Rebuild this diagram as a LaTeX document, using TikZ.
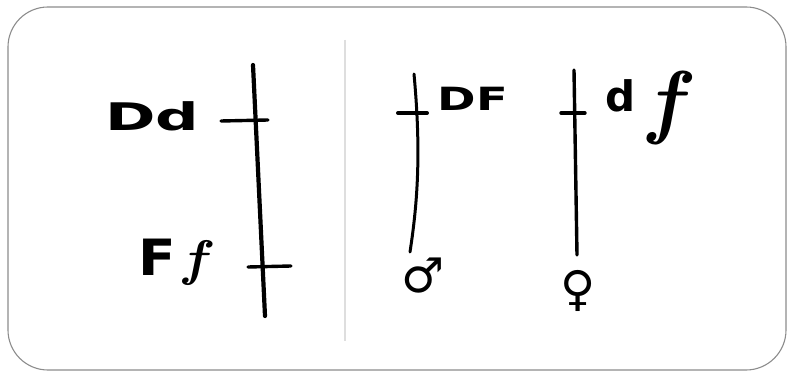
\documentclass[tikz,border=0pt]{standalone}
\usepackage{fontspec}
\setmainfont{DejaVu Sans}
\newfontfamily\lmfam{Latin Modern Roman}
\begin{document}
\begin{tikzpicture}[x=1pt,y=-1pt,
  chrom/.style={line width=3.6pt,line cap=round},
  locus/.style={line width=3.4pt,line cap=round},
  lbl/.style={inner sep=0pt,font=\bfseries\fontsize{#1}{#1}\selectfont},
  lbl/.default=34]
\useasboundingbox (0,0) rectangle (787,371);
\draw[gray!90,line width=1.1pt,rounded corners=40pt] (8,7) rectangle (786,370);
\draw[black!13,line width=2.6pt] (345,40) -- (345,341);
% left chromosome
\draw[chrom,line width=4.2pt] (253,65) -- (265,316);
\draw[locus] (221,121) -- (268,120);
\draw[locus] (248,267) -- (291,266);
\node[lbl=38,xscale=1.6] (dd) at (152,116) {Dd};
\node[lbl=50,xscale=1.1] (ff) at (172,262) {F\hspace{6pt}{\lmfam\itshape f}};
% middle chromosome
\draw[chrom,line width=3pt] (414,74) .. controls (421,150) and (418,200) .. (410,252);
\draw[locus,line width=4pt] (398,113) -- (427,113);
\node[lbl=32,xscale=1.45] (df1) at (473,99) {DF};
\node[lbl=48] (male) at (423,276) {♂};
% right chromosome
\draw[chrom,line width=3.4pt] (574,70) -- (577,255);
\draw[locus] (561,113) -- (585,113);
\node[lbl=42] (d2) at (621,96) {d};
\node[lbl=82] (f2) at (665,108) {\lmfam\itshape f};
\node[lbl=48] (female) at (578,291) {♀};
\end{tikzpicture}
\end{document}
